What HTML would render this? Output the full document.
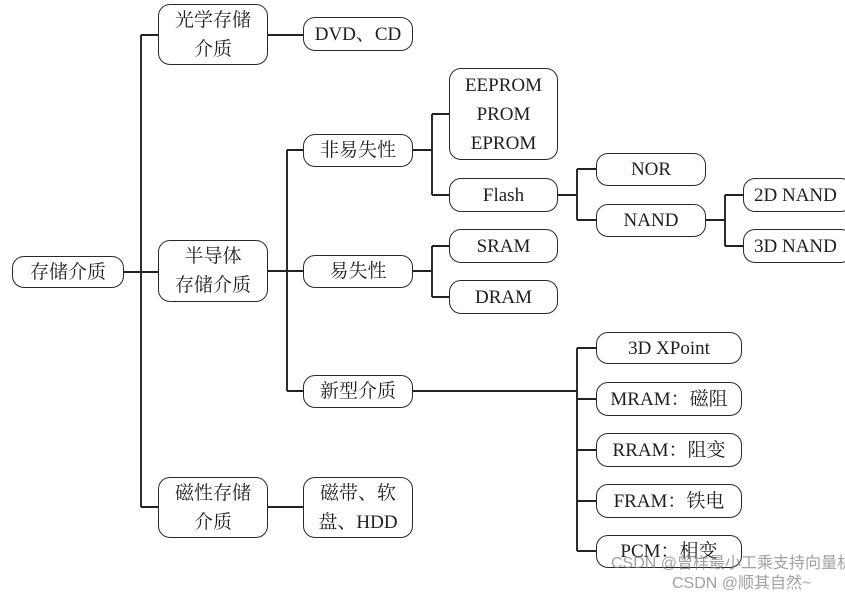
<!DOCTYPE html>
<html><head><meta charset="utf-8"><style>
body{margin:0;width:845px;height:598px;background:#fff;position:relative;overflow:hidden;font-family:"Liberation Serif","Noto Serif CJK SC",serif;color:#1e1e1e}
.b{position:absolute;box-sizing:border-box;border:1.7px solid #2a2a2a;border-radius:12px;display:flex;align-items:center;justify-content:center;text-align:center;font-size:19px;line-height:29px;background:#fff}
svg{position:absolute;left:0;top:0}
.w{position:absolute;font-family:"Liberation Sans","Noto Sans CJK SC",sans-serif;font-size:16px;color:rgba(130,130,130,0.75);white-space:nowrap}
</style></head><body>
<svg width="845" height="598" stroke="#222" stroke-width="1.9" fill="none">
<path d="M124 272H158M141 35V507M141 35H158M141 507H158"/>
<path d="M268 35H303M268 507H303M268 271H303M287 150V391M287 150H303M287 391H303"/>
<path d="M413 150H432M432 114V195M432 114H449M432 195H449"/>
<path d="M558 195H577M577 169V220M577 169H596M577 220H596"/>
<path d="M706 220H725M725 195V246M725 195H743M725 246H743"/>
<path d="M413 271H432M432 246V297M432 246H449M432 297H449"/>
<path d="M413 391H577M577 348V551M577 348H596M577 399H596M577 450H596M577 501H596M577 551H596"/>
</svg>
<div class="b" style="left:12px;top:256px;width:112px;height:32px">存储介质</div>
<div class="b" style="left:158px;top:4px;width:110px;height:61px">光学存储<br>介质</div>
<div class="b" style="left:303px;top:17px;width:110px;height:34px">DVD、CD</div>
<div class="b" style="left:158px;top:240px;width:110px;height:62px">半导体<br>存储介质</div>
<div class="b" style="left:303px;top:134px;width:110px;height:33px">非易失性</div>
<div class="b" style="left:303px;top:255px;width:110px;height:33px">易失性</div>
<div class="b" style="left:303px;top:375px;width:110px;height:33px">新型介质</div>
<div class="b" style="left:158px;top:477px;width:110px;height:61px">磁性存储<br>介质</div>
<div class="b" style="left:303px;top:477px;width:110px;height:61px">磁带、软<br>盘、HDD</div>
<div class="b" style="left:449px;top:68px;width:109px;height:92px">EEPROM<br>PROM<br>EPROM</div>
<div class="b" style="left:449px;top:178px;width:109px;height:34px">Flash</div>
<div class="b" style="left:449px;top:229px;width:109px;height:34px">SRAM</div>
<div class="b" style="left:449px;top:280px;width:109px;height:34px">DRAM</div>
<div class="b" style="left:596px;top:153px;width:110px;height:33px">NOR</div>
<div class="b" style="left:596px;top:204px;width:110px;height:33px">NAND</div>
<div class="b" style="left:743px;top:178px;width:110px;height:34px;justify-content:flex-start;padding-left:10px">2D NAND</div>
<div class="b" style="left:743px;top:229px;width:110px;height:34px;justify-content:flex-start;padding-left:10px">3D NAND</div>
<div class="b" style="left:596px;top:332px;width:146px;height:32px">3D XPoint</div>
<div class="b" style="left:596px;top:382px;width:146px;height:34px">MRAM：磁阻</div>
<div class="b" style="left:596px;top:433px;width:146px;height:34px">RRAM：阻变</div>
<div class="b" style="left:596px;top:484px;width:146px;height:34px">FRAM：铁电</div>
<div class="b" style="left:596px;top:535px;width:146px;height:33px">PCM：相变</div>
<div class="w" style="left:611px;top:549px">CSDN @曾样最小工乘支持向量机</div>
<div class="w" style="left:672px;top:569px">CSDN @顺其自然~</div>
</body></html>
